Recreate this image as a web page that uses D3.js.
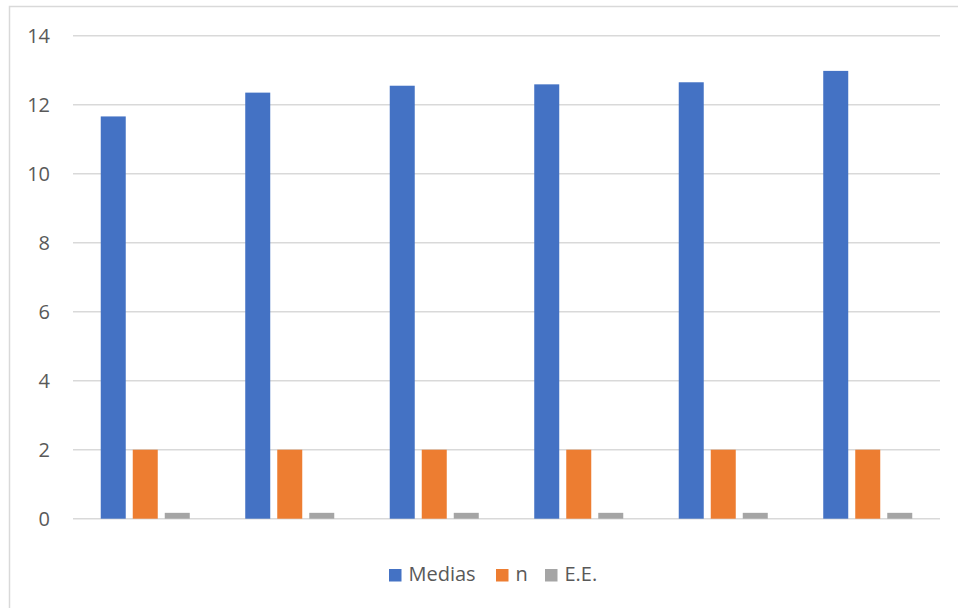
<!DOCTYPE html>
<html>
<head>
<meta charset="utf-8">
<script src="https://cdn.jsdelivr.net/npm/d3@7"></script>
<style>
  html, body { margin: 0; padding: 0; background: #fff; overflow: hidden; }
  svg { display: block; font-family: "Open Sans", "Liberation Sans", sans-serif; }
</style>
</head>
<body>
<svg id="chart" width="958" height="608"></svg>
<script>
// Six groups, three series each
const groups = ["1", "2", "3", "4", "5", "6"];
const seriesNames = ["Medias", "n", "E.E."];
const medias = [11.66, 12.35, 12.55, 12.59, 12.65, 12.98];
const nValues = [2, 2, 2, 2, 2, 2];
const eeValues = [0.17, 0.17, 0.17, 0.17, 0.17, 0.17];
const yTicks = [0, 2, 4, 6, 8, 10, 12, 14];
const colors = ["#4472C4", "#ED7D31", "#A5A5A5"];

const seriesValues = [medias, nValues, eeValues];
const rows = groups.map((g, i) => ({
  group: g,
  values: seriesNames.map((s, j) => ({ series: s, value: seriesValues[j][i] }))
}));

const svg = d3.select("#chart");

// chart frame (only the top and left edges fall inside the view)
svg.append("rect")
  .attr("x", 9.5).attr("y", 6.5)
  .attr("width", 1000).attr("height", 700)
  .attr("fill", "none").attr("stroke", "#d9d9d9").attr("stroke-width", 1.5);

const plot = { left: 73, right: 940, top: 35.7, bottom: 518.7 };

const y = d3.scaleLinear().domain([0, 14]).range([plot.bottom, plot.top]);

const x0 = d3.scaleBand()
  .domain(groups)
  .range([plot.left, plot.right])
  .paddingInner(0.384)
  .paddingOuter(0.192);

const x1 = d3.scaleBand()
  .domain(seriesNames)
  .range([0, x0.bandwidth()])
  .paddingInner(0.219)
  .paddingOuter(0);

const color = d3.scaleOrdinal().domain(seriesNames).range(colors);

// gridlines
svg.append("g")
  .selectAll("line")
  .data(yTicks)
  .join("line")
  .attr("x1", plot.left).attr("x2", plot.right)
  .attr("y1", d => y(d)).attr("y2", d => y(d))
  .attr("stroke", "#d9d9d9").attr("stroke-width", 1.5);

// y axis labels
const yAxis = d3.axisLeft(y).tickValues(yTicks).tickSize(0).tickPadding(0);
const yg = svg.append("g")
  .attr("transform", `translate(${plot.left - 23},0)`)
  .call(yAxis);
yg.select(".domain").remove();
yg.selectAll("text")
  .attr("fill", "#595959")
  .style("font-size", "20px")
  .style("font-family", "'Open Sans', sans-serif");

// bars
svg.append("g")
  .selectAll("g")
  .data(rows)
  .join("g")
  .attr("transform", d => `translate(${x0(d.group)},0)`)
  .selectAll("rect")
  .data(d => d.values)
  .join("rect")
  .attr("x", d => x1(d.series))
  .attr("width", x1.bandwidth())
  .attr("y", d => y(d.value))
  .attr("height", d => y(0) - y(d.value))
  .attr("fill", d => color(d.series));

// legend
const legendItems = [
  { name: "Medias", x: 389 },
  { name: "n", x: 496 },
  { name: "E.E.", x: 545 }
];
const legend = svg.append("g");
const li = legend.selectAll("g")
  .data(legendItems)
  .join("g")
  .attr("transform", d => `translate(${d.x},569)`);
li.append("rect")
  .attr("width", 12.5).attr("height", 12.5)
  .attr("fill", d => color(d.name));
li.append("text")
  .attr("x", 19.5).attr("y", 12)
  .attr("fill", "#595959")
  .style("font-size", "20px")
  .text(d => d.name);
</script>
</body>
</html>
